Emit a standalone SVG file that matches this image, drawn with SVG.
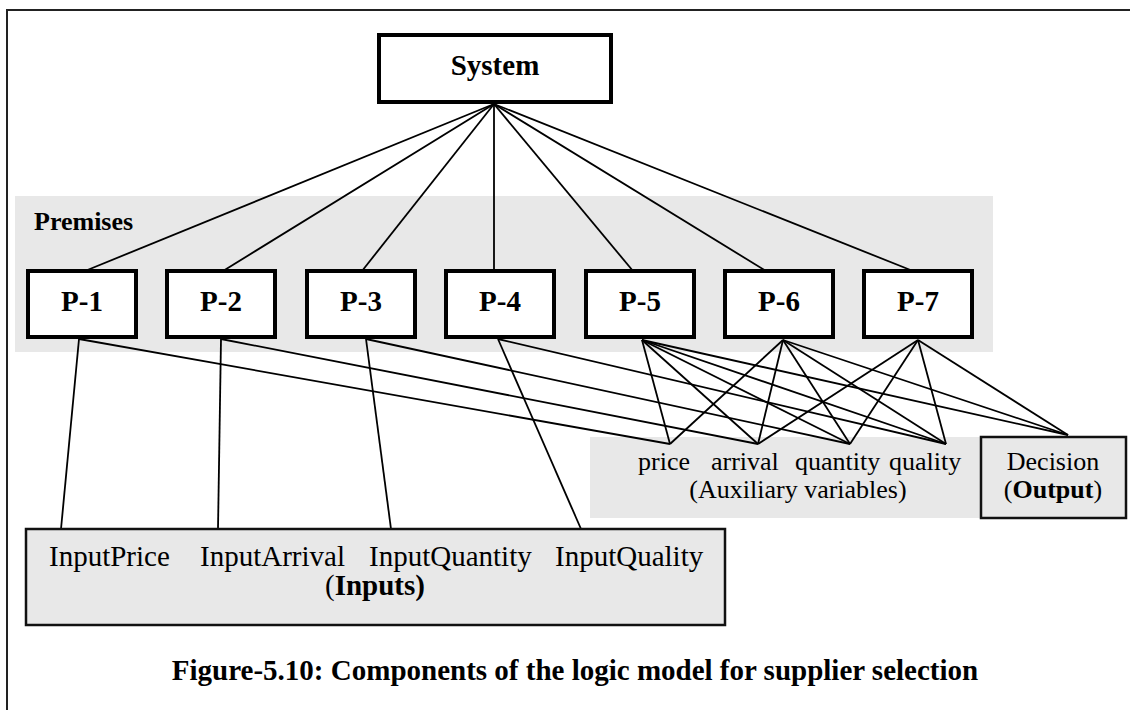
<svg xmlns="http://www.w3.org/2000/svg" width="1130" height="710" viewBox="0 0 1130 710">
<style>
text{font-family:"Liberation Serif","Times New Roman",serif;fill:#000}
.b{font-weight:bold}
.box{fill:#fff;stroke:#000;stroke-width:4}
.band{fill:#e8e8e8;stroke:none}
.gbox{fill:#e8e8e8;stroke:#111;stroke-width:2.5}
.c line{stroke:#000;stroke-width:1.8}
.pt{font-size:29px;font-weight:bold;text-anchor:middle}
.in{font-size:29px}
.ax{font-size:26px}
</style>
<rect x="7" y="10" width="1200" height="800" fill="#fff" stroke="#222" stroke-width="2"/>
<rect class="band" x="15" y="196" width="978" height="156"/>
<rect class="band" x="590" y="437" width="392" height="81"/>
<g class="c" id="connectors">
<line x1="494" y1="104" x2="85" y2="271"/>
<line x1="494" y1="104" x2="223" y2="271"/>
<line x1="494" y1="104" x2="362" y2="271"/>
<line x1="494" y1="104" x2="494" y2="271"/>
<line x1="494" y1="104" x2="633" y2="271"/>
<line x1="494" y1="104" x2="766" y2="271"/>
<line x1="494" y1="104" x2="913" y2="271"/>
<line x1="79" y1="339" x2="61" y2="529"/>
<line x1="79" y1="339" x2="670" y2="444"/>
<line x1="221" y1="339" x2="218" y2="529"/>
<line x1="221" y1="339" x2="758" y2="444"/>
<line x1="366" y1="339" x2="391" y2="529"/>
<line x1="366" y1="339" x2="850" y2="444"/>
<line x1="498" y1="339" x2="581" y2="529"/>
<line x1="498" y1="339" x2="946" y2="444"/>
<line x1="642" y1="340" x2="670" y2="444"/>
<line x1="642" y1="340" x2="758" y2="444"/>
<line x1="642" y1="340" x2="850" y2="444"/>
<line x1="642" y1="340" x2="946" y2="444"/>
<line x1="642" y1="340" x2="1068" y2="435"/>
<line x1="783" y1="340" x2="670" y2="444"/>
<line x1="783" y1="340" x2="758" y2="444"/>
<line x1="783" y1="340" x2="850" y2="444"/>
<line x1="783" y1="340" x2="946" y2="444"/>
<line x1="783" y1="340" x2="1068" y2="435"/>
<line x1="918" y1="340" x2="758" y2="444"/>
<line x1="918" y1="340" x2="850" y2="444"/>
<line x1="918" y1="340" x2="946" y2="444"/>
<line x1="918" y1="340" x2="1068" y2="435"/>
</g>
<g id="system"><rect class="box" x="379" y="35" width="232" height="67"/><text class="pt" x="495" y="75">System</text></g>
<g id="premises"><text class="b" x="34" y="230" font-size="26">Premises</text></g>
<g id="p1"><rect class="box" x="28" y="271" width="108" height="66"/><text class="pt" x="82" y="311">P-1</text></g>
<g id="p2"><rect class="box" x="167" y="271" width="108" height="66"/><text class="pt" x="221" y="311">P-2</text></g>
<g id="p3"><rect class="box" x="307" y="271" width="108" height="66"/><text class="pt" x="361" y="311">P-3</text></g>
<g id="p4"><rect class="box" x="446" y="271" width="108" height="66"/><text class="pt" x="500" y="311">P-4</text></g>
<g id="p5"><rect class="box" x="586" y="271" width="108" height="66"/><text class="pt" x="640" y="311">P-5</text></g>
<g id="p6"><rect class="box" x="725" y="271" width="108" height="66"/><text class="pt" x="779" y="311">P-6</text></g>
<g id="p7"><rect class="box" x="864" y="271" width="108" height="66"/><text class="pt" x="918" y="311">P-7</text></g>
<g id="aux">
<text class="ax" x="638" y="470">price</text>
<text class="ax" x="711" y="470">arrival</text>
<text class="ax" x="795" y="470">quantity</text>
<text class="ax" x="889" y="470">quality</text>
<text class="ax" x="798" y="498" text-anchor="middle">(Auxiliary variables)</text>
</g>
<g id="decision"><rect class="gbox" x="981" y="437" width="145" height="81"/>
<text class="ax" x="1053" y="470" text-anchor="middle">Decision</text>
<text class="ax" x="1053" y="498" text-anchor="middle">(<tspan class="b">Output</tspan>)</text></g>
<g id="inputs"><rect class="gbox" x="26" y="529" width="699" height="96"/>
<text class="in" x="49" y="566">InputPrice</text>
<text class="in" x="200" y="566">InputArrival</text>
<text class="in" x="369" y="566">InputQuantity</text>
<text class="in" x="555" y="566">InputQuality</text>
<text class="in" x="375" y="595" text-anchor="middle">(<tspan class="b">Inputs)</tspan></text></g>
<text class="b" x="575" y="680" font-size="29" text-anchor="middle">Figure-5.10: Components of the logic model for supplier selection</text>
</svg>
